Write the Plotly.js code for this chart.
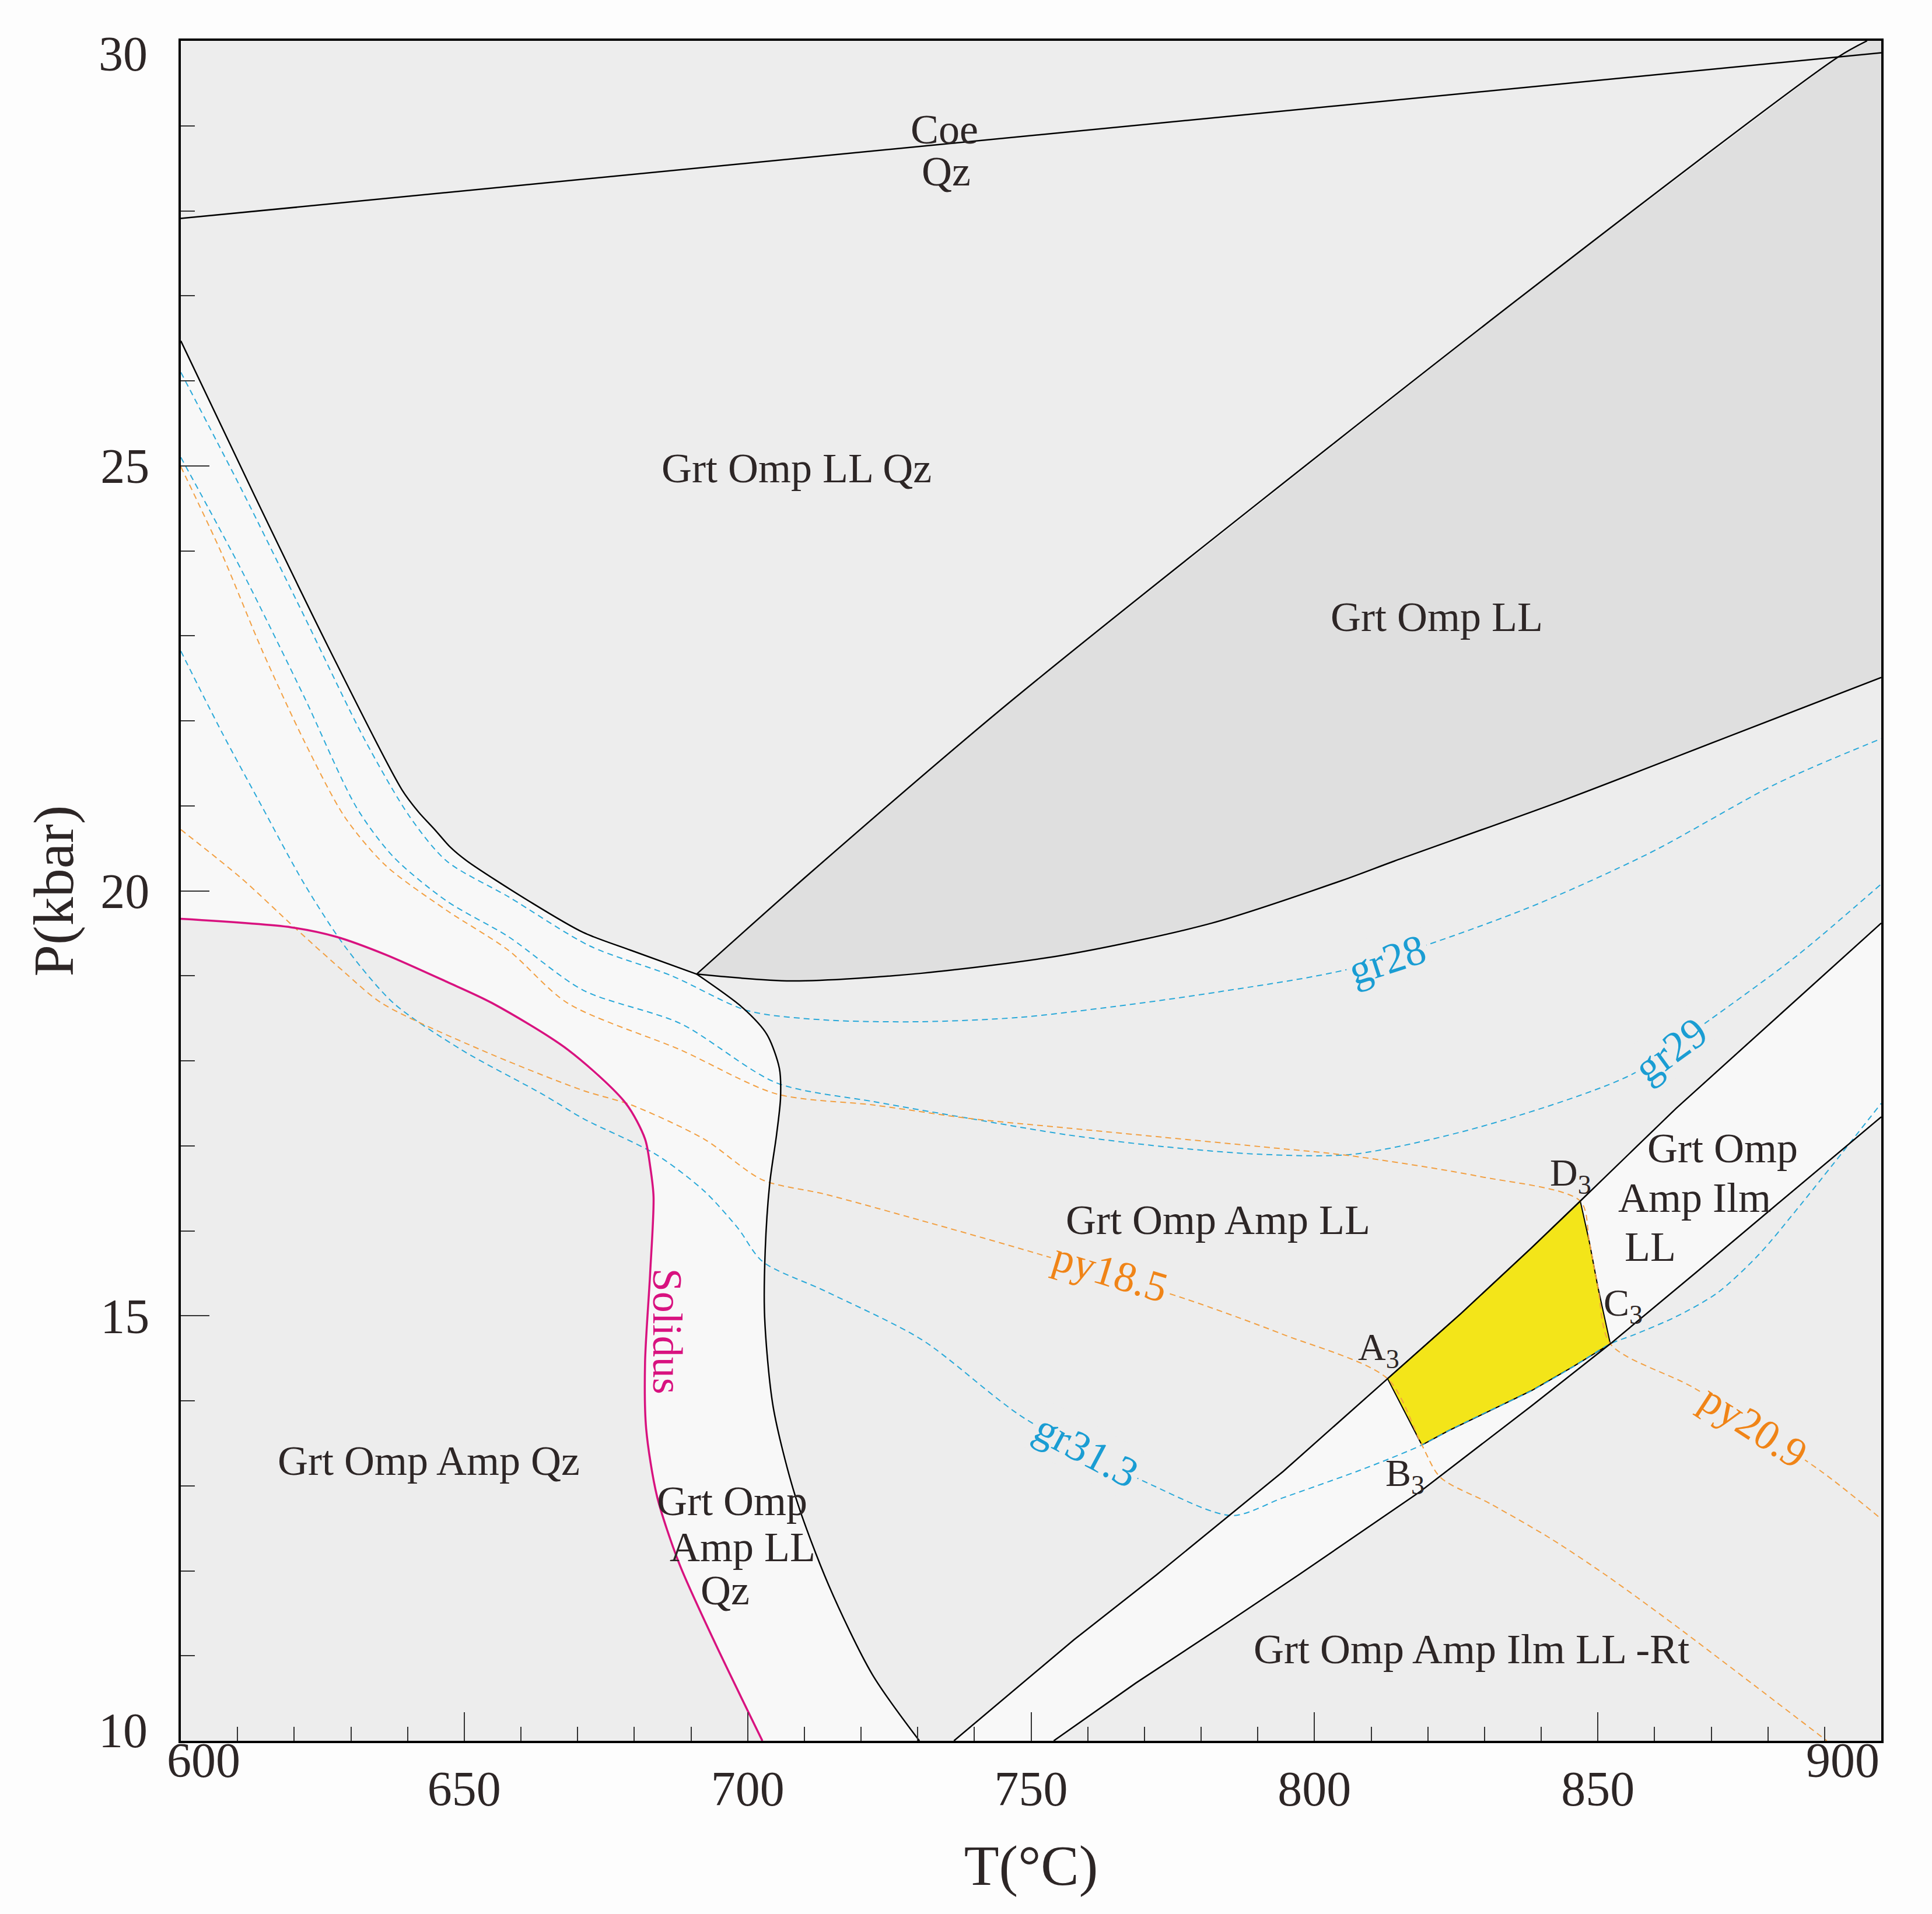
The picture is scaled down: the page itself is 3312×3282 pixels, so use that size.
<!DOCTYPE html>
<html>
<head>
<meta charset="utf-8">
<script src="https://cdn.plot.ly/plotly-3.0.1.min.js"></script>
<style>
  html, body { margin: 0; padding: 0; background: #fdfdfd; }
  #pt-section { width: 3312px; height: 3282px; }
</style>
</head>
<body>
<div id="pt-section"></div>
<script>
// P-T section, T in degC, P in kbar
var T_MIN = 600, T_MAX = 900, P_MIN = 10, P_MAX = 30;

// coesite = quartz
var coeT = [600, 900];
var coeP = [27.91, 29.86];

// boundary between the Qz field and the light field, left of the triple point
var qzLeftT = [600, 613.0, 626.0, 639.0, 641.9, 644.8, 647.6, 650.5, 661.4, 671.0, 679.4, 691.0];
var qzLeftP = [26.47, 24.65, 22.87, 21.19, 20.93, 20.72, 20.51, 20.35, 19.88, 19.51, 19.30, 19.02];

// boundary from the triple point down to the T axis
var qzRightT = [691.0, 699.2, 703.4, 705.6, 705.8, 705.1, 703.9, 703.1, 703.0, 704.5, 708.4, 714.3, 722.0, 730.3];
var qzRightP = [19.02, 18.62, 18.31, 17.91, 17.56, 17.13, 16.56, 15.77, 14.98, 13.93, 12.88, 11.83, 10.78, 10];

// upper and lower limits of the Grt Omp LL field
var llTopT = [691.0, 710.7, 746.8, 835.7, 892.4, 897.5];
var llTopP = [19.02, 20.19, 22.25, 26.95, 29.81, 30];
var llBotT = [691.0, 707.7, 730.7, 756.3, 781.9, 804.8, 814.1, 844.1, 874.0, 900];
var llBotP = [19.02, 18.94, 19.03, 19.25, 19.62, 20.12, 20.35, 21.07, 21.84, 22.51];

// solidus
var solidusT = [600, 619.5, 627.4, 636.1, 646.9, 654.9, 668.3, 678.5, 681.9, 682.8, 683.4, 682.8, 681.9, 682.1, 684.0, 687.9, 693.9, 702.6];
var solidusP = [19.67, 19.57, 19.46, 19.25, 18.93, 18.68, 18.13, 17.50, 17.08, 16.76, 16.40, 15.50, 14.45, 13.67, 12.88, 12.09, 11.20, 10];

// Ilm-bearing band
var bandUpT = [736.4, 743.2, 757.6, 772.1, 794.5, 812.9, 825.9, 838.3, 846.9, 863.8, 900];
var bandUpP = [10, 10.38, 11.19, 11.95, 13.17, 14.26, 15.03, 15.80, 16.35, 17.44, 19.62];
var bandLoT = [754.0, 768.5, 784.2, 797.4, 818.6, 838.3, 852.2, 867.5, 881.4, 900];
var bandLoP = [10, 10.68, 11.37, 11.96, 12.93, 13.94, 14.67, 15.52, 16.30, 17.34];

// A3 - D3 - C3 - B3 field
var fieldT = [812.9, 825.9, 838.3, 846.9, 848.5, 850.0, 852.2, 845.6, 838.3, 829.5, 823.7, 818.95, 812.9];
var fieldP = [14.26, 15.03, 15.80, 16.35, 15.87, 15.34, 14.67, 14.40, 14.12, 13.84, 13.65, 13.48, 14.26];

// grossular isopleths
var gr28T = [600, 610.8, 621.7, 632.5, 640.4, 646.9, 657.8, 672.2, 686.6, 700.0, 713.7, 730.7, 747.8, 764.9, 783.0, 806.7, 836.6, 859.0, 881.5, 900];
var gr28P = [26.10, 24.71, 23.24, 21.77, 20.87, 20.35, 19.93, 19.35, 19.00, 18.59, 18.48, 18.46, 18.51, 18.64, 18.81, 19.09, 19.77, 20.44, 21.26, 21.79];
var gr29T = [600, 610.8, 621.7, 631.0, 637.5, 646.9, 657.8, 671.0, 688.1, 705.1, 722.2, 739.3, 756.3, 773.4, 790.5, 806.7, 829.1, 856.0, 869.5, 885.2, 900];
var gr29P = [25.10, 23.76, 22.29, 20.98, 20.40, 19.88, 19.46, 18.83, 18.44, 17.74, 17.52, 17.32, 17.13, 16.99, 16.90, 16.90, 17.22, 17.84, 18.47, 19.24, 20.08];
var gr313T = [600, 607.2, 614.4, 621.7, 628.9, 637.5, 649.5, 664.0, 671.0, 683.8, 692.3, 698.3, 702.6, 713.7, 730.7, 748.7, 771.3, 785.4, 794.5, 809.1, 818.95, 823.7, 829.5, 838.3, 845.6, 852.2, 856.5, 863.8, 871.1, 878.4, 885.7, 900];
var gr313P = [22.82, 21.87, 20.98, 20.09, 19.35, 18.68, 18.13, 17.60, 17.32, 16.90, 16.47, 16.03, 15.64, 15.29, 14.72, 13.80, 13.01, 12.65, 12.86, 13.21, 13.48, 13.65, 13.84, 14.12, 14.40, 14.67, 14.78, 14.99, 15.27, 15.72, 16.30, 17.50];

// pyrope isopleths
var py185T = [600, 610.8, 620.2, 628.9, 635.4, 652.9, 671.0, 679.5, 692.3, 702.6, 713.7, 730.7, 751.2, 777.2, 794.5, 812.9, 818.95, 822.2, 831.0, 841.9, 851.4, 863.8, 890.4];
var py185P = [20.72, 20.14, 19.56, 19.04, 18.68, 18.13, 17.65, 17.48, 17.08, 16.60, 16.43, 16.12, 15.73, 15.20, 14.78, 14.26, 13.48, 13.10, 12.79, 12.37, 11.95, 11.35, 10];
var py209T = [600, 607.2, 614.4, 621.7, 628.9, 636.1, 646.9, 657.8, 668.2, 688.1, 705.1, 722.2, 739.3, 756.3, 773.4, 790.5, 806.7, 829.1, 846.9, 848.5, 850.0, 852.2, 867.0, 889.4, 900];
var py209P = [24.99, 23.97, 22.82, 21.77, 20.87, 20.30, 19.77, 19.30, 18.68, 18.13, 17.61, 17.48, 17.32, 17.21, 17.10, 16.99, 16.88, 16.64, 16.35, 15.87, 15.34, 14.67, 14.15, 13.17, 12.61];

// labels
var fieldNames = ['Grt Omp LL Qz', 'Grt Omp LL', 'Grt Omp Amp LL', 'Grt Omp Amp Qz', 'Grt Omp', 'Amp LL', 'Qz',
                  'Grt Omp', 'Amp Ilm', 'LL', 'Grt Omp Amp Ilm LL -Rt', 'Coe', 'Qz'];
var fieldNameT = [708.6, 821.6, 783.0, 643.7, 697.3, 699.1, 696.0, 872.0, 867.1, 859.2, 827.7, 734.7, 735.0];
var fieldNameP = [24.97, 23.22, 16.13, 13.29, 12.82, 12.28, 11.77, 16.97, 16.39, 15.81, 11.08, 28.96, 28.46];

var pointNames = ['A<sub>3</sub>', 'B<sub>3</sub>', 'C<sub>3</sub>', 'D<sub>3</sub>'];
var pointNameT = [811.3, 816.0, 854.5, 845.2];
var pointNameP = [14.60, 13.12, 15.12, 16.65];

var isoNames = ['gr28', 'gr29', 'gr31.3', 'py18.5', 'py20.9'];
var isoNameT = [812.8, 862.8, 759.8, 764.0, 877.5];
var isoNameP = [19.19, 18.13, 13.41, 15.51, 13.70];
var isoAngle = [-18, -36, 28, 17, 33];

// axis numbers; the end ones sit a little inside the frame
var tTicks = [600, 650, 700, 750, 800, 850, 900];
var pTicks = [10, 15, 20, 25, 30];

var blue = '#2aa9d9';
var orange = '#f2a043';
var blueText = '#1a9dd3';
var orangeText = '#f08417';
var magenta = '#d8127f';
var ink = '#2d2626';
var FONT = 'Liberation Serif, Times New Roman, serif';

function polygon(xs, ys, color) {
  return {
    x: xs, y: ys, mode: 'lines', type: 'scatter', fill: 'toself',
    fillcolor: color, line: {width: 0}, hoverinfo: 'skip', showlegend: false
  };
}

function curve(xs, ys, color, width, dash, straight) {
  var line = {color: color, width: width, dash: dash || 'solid'};
  if (straight) {
    line.shape = 'linear';
  } else {
    line.shape = 'spline';
    line.smoothing = 0.8;
  }
  return {
    x: xs, y: ys, mode: 'lines', type: 'scatter', line: line,
    hoverinfo: 'skip', showlegend: false
  };
}

// light field: left Qz boundary, down the right boundary, back up the solidus
var lightT = qzLeftT.concat(qzRightT.slice(1), solidusT.slice().reverse());
var lightP = qzLeftP.concat(qzRightP.slice(1), solidusP.slice().reverse());

var bandT = bandUpT.concat(bandLoT.slice().reverse());
var bandP = bandUpP.concat(bandLoP.slice().reverse());

var darkT = llTopT.concat([T_MAX], llBotT.slice().reverse());
var darkP = llTopP.concat([P_MAX], llBotP.slice().reverse());

var field = polygon(fieldT, fieldP, '#f3e519');
field.line = {color: 'black', width: 2};

var dash = '10px,7px';
var data = [
  polygon(lightT, lightP, '#f8f8f8'),
  polygon(bandT, bandP, '#f8f8f8'),
  polygon(darkT, darkP, '#dfdfdf'),
  field,
  curve(gr28T, gr28P, blue, 2, dash),
  curve(gr29T, gr29P, blue, 2, dash),
  curve(gr313T, gr313P, blue, 2, dash),
  curve(py185T, py185P, orange, 2, dash),
  curve(py209T, py209P, orange, 2, dash),
  curve(coeT, coeP, 'black', 2.5, null, true),
  curve(qzLeftT, qzLeftP, 'black', 2.5),
  curve(qzRightT, qzRightP, 'black', 2.5),
  curve(llTopT, llTopP, 'black', 2.5),
  curve(llBotT, llBotP, 'black', 2.5),
  curve(bandUpT, bandUpP, 'black', 2.5, null, true),
  curve(bandLoT, bandLoP, 'black', 2.5, null, true),
  curve(solidusT, solidusP, magenta, 3.5)
];

var annotations = [];
fieldNames.forEach(function(name, i) {
  annotations.push({
    x: fieldNameT[i], y: fieldNameP[i], xref: 'x', yref: 'y', text: name,
    showarrow: false, font: {family: FONT, size: 72, color: ink}
  });
});
pointNames.forEach(function(name, i) {
  annotations.push({
    x: pointNameT[i], y: pointNameP[i], xref: 'x', yref: 'y', text: name,
    showarrow: false, font: {family: FONT, size: 66, color: ink}
  });
});
isoNames.forEach(function(name, i) {
  annotations.push({
    x: isoNameT[i], y: isoNameP[i], xref: 'x', yref: 'y', text: name,
    textangle: isoAngle[i], showarrow: false, bgcolor: '#ededed', borderpad: 4,
    font: {family: FONT, size: 73, color: name.indexOf('gr') === 0 ? blueText : orangeText}
  });
});
annotations.push({
  x: 685.8, y: 14.82, xref: 'x', yref: 'y', text: 'Solidus', textangle: 90,
  showarrow: false, font: {family: FONT, size: 72, color: magenta}
});

// end numbers of both axes, nudged inwards as in the original
var tickFont = {family: FONT, size: 84, color: ink};
annotations.push({x: T_MIN + 4, y: 0, xref: 'x', yref: 'paper', yshift: -82,
  text: String(tTicks[0]), showarrow: false, font: tickFont});
annotations.push({x: T_MAX - 6.8, y: 0, xref: 'x', yref: 'paper', yshift: -82,
  text: String(tTicks[tTicks.length - 1]), showarrow: false, font: tickFont});
annotations.push({x: 0, y: P_MAX - 0.155, xref: 'paper', yref: 'y', xanchor: 'right', xshift: -55,
  text: String(pTicks[pTicks.length - 1]), showarrow: false, font: tickFont});
annotations.push({x: 0, y: P_MIN + 0.12, xref: 'paper', yref: 'y', xanchor: 'right', xshift: -55,
  text: String(pTicks[0]), showarrow: false, font: tickFont});

var axisCommon = {
  showgrid: false, zeroline: false, showline: true, linewidth: 4,
  linecolor: 'black', mirror: true, ticks: 'inside', ticklen: 49,
  tickwidth: 2, tickcolor: '#333', automargin: false, tickmode: 'array',
  tickfont: tickFont
};

var layout = {
  width: 3312,
  height: 3282,
  margin: {l: 310, r: 87, t: 70, b: 297},
  paper_bgcolor: '#fdfdfd',
  plot_bgcolor: '#ededed',
  showlegend: false,
  xaxis: Object.assign({}, axisCommon, {
    range: [T_MIN, T_MAX], tickvals: tTicks.slice(1, -1),
    ticklabelstandoff: 6,
    minor: {ticks: 'inside', ticklen: 24, dtick: 10, tickwidth: 2, tickcolor: '#333'},
    title: {text: 'T(°C)', standoff: 52, font: {family: FONT, size: 98, color: ink}}
  }),
  yaxis: Object.assign({}, axisCommon, {
    range: [P_MIN, P_MAX], tickvals: pTicks.slice(1, -1),
    ticklabelstandoff: 33,
    minor: {ticks: 'inside', ticklen: 24, dtick: 1, tickwidth: 2, tickcolor: '#333'},
    title: {text: 'P(kbar)', standoff: 15, font: {family: FONT, size: 98, color: ink}}
  }),
  annotations: annotations
};

Plotly.newPlot('pt-section', data, layout, {staticPlot: true});
</script>
</body>
</html>
